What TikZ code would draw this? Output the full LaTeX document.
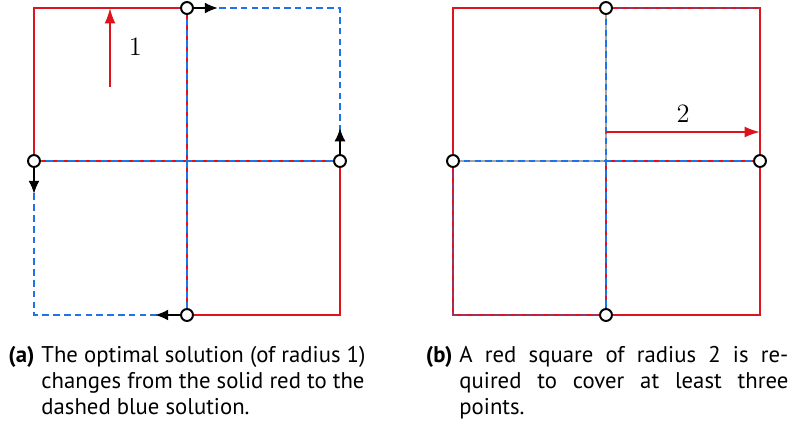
\documentclass[tikz,border=0pt]{standalone}
\usepackage{fontspec}
\setsansfont{PT Sans}
\usepackage{tikz}
\usetikzlibrary{arrows.meta, positioning}

\definecolor{solred}{RGB}{222,20,28}
\definecolor{dashblue}{RGB}{30,115,230}

\begin{document}
\begin{tikzpicture}[x=0.453pt, y=-0.453pt,
    redline/.style={solred, line width=0.95pt},
    blueline/.style={dashblue, line width=0.95pt, dash pattern=on 3pt off 1.9pt},
    greyline/.style={gray!70, line width=0.95pt},
    pt/.style={circle, draw=black, fill=white, line width=0.9pt, minimum size=5.4pt, inner sep=0pt},
    move/.style={-{Latex[length=6pt, width=5pt]}, line width=0.9pt},
    radius arrow/.style={solred, -{Latex[length=7pt, width=5pt]}, line width=0.9pt},
    capfont/.style={font=\sffamily\fontsize{10.3pt}{12pt}\selectfont, inner sep=0pt},
    caplabel/.style={font=\sffamily\bfseries\fontsize{10.3pt}{12pt}\selectfont, inner sep=0pt}]
    \useasboundingbox (0,0) rectangle (792,432);

    % Left: solid red and dashed blue solutions
    \draw [redline] (34,161) rectangle (187,8);
    \draw [redline] (187,161) rectangle (340,315);
    \draw [blueline] (187,8) rectangle (340,161);
    \draw [blueline] (34,161) rectangle (187,315);

    % Radius 1
    \coordinate (r1s) at (110,87);
    \coordinate (r1e) at (110,8);
    \draw [radius arrow] (r1s) -- (r1e);
    \node [right=5pt of r1s, yshift=18pt, font=\large] (one) {$1$};

    % Points of the left instance
    \node [pt] (a-t) at (187,8) {};
    \node [pt] (a-l) at (34,161) {};
    \node [pt] (a-r) at (340,161) {};
    \node [pt] (a-b) at (187,315) {};

    % Moving points
    \coordinate (a-t-e) at (218,8);
    \coordinate (a-l-e) at (34,194);
    \coordinate (a-r-e) at (340,128);
    \coordinate (a-b-e) at (155,315);
    \draw [move] (a-t) -- (a-t-e);
    \draw [move] (a-l) -- (a-l-e);
    \draw [move] (a-r) -- (a-r-e);
    \draw [move] (a-b) -- (a-b-e);

    % Right: red square of radius 2
    \draw [greyline] (606,8) -- (606,161) -- (453,161);
    \draw [redline] (606,315) -- (606,161) -- (760,161);
    \draw [blueline] (606,8) -- (606,315);
    \draw [blueline] (453,161) -- (760,161);
    \draw [redline] (453,8) rectangle (760,315);
    \draw [blueline, opacity=0.35] (606,8) -- (760,8);
    \draw [blueline, opacity=0.35] (453,161) -- (453,315) -- (606,315);

    % Radius 2
    \coordinate (r2s) at (606,132);
    \coordinate (r2e) at (760,132);
    \draw [radius arrow] (r2s) -- (r2e);
    \node [font=\large] (two) at (683,114) {$2$};

    % Points of the right instance
    \node [pt] (b-t) at (606,8) {};
    \node [pt] (b-l) at (453,161) {};
    \node [pt] (b-r) at (760,161) {};
    \node [pt] (b-b) at (606,315) {};

    % Captions
    \node [capfont, anchor=base west] (cap-a) at (41,362)
        {\parbox[t]{150pt}{The optimal solution (of radius 1)\\changes from the solid red to the\\dashed blue solution.}};
    \node [caplabel, anchor=base east] (lab-a) at (35,362) {(a)};
    \node [capfont, anchor=base west] (cap-b) at (459,362)
        {\parbox[t]{149pt}{A red square of radius 2 is re-\linebreak quired to cover at least three\linebreak points.}};
    \node [caplabel, anchor=base east] (lab-b) at (453,362) {(b)};
\end{tikzpicture}
\end{document}
